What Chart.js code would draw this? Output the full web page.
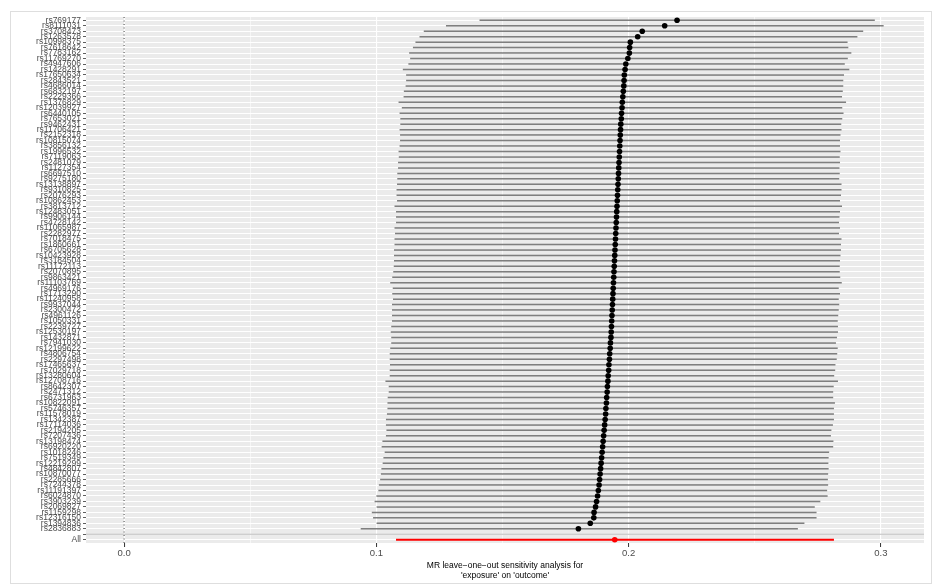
<!DOCTYPE html>
<html>
<head>
<meta charset="utf-8">
<script src="https://cdn.jsdelivr.net/npm/chart.js@4.4.1/dist/chart.umd.min.js"></script>
<style>
  html, body { margin: 0; padding: 0; background: #fff; }
  #frame { position: absolute; left: 10px; top: 11px; width: 920px; height: 571px; border: 1px solid #dedede; }
  #loo { position: absolute; left: 0; top: 0; }
</style>
</head>
<body>
<div id="frame"></div>
<canvas id="loo" width="934" height="585"></canvas>
<script>
// leave-one-out results, ordered by estimate (top row first)
const snps = [
  'rs769177','rs8111031','rs3708473','rs1263578','rs10998375','rs7618642','rs7783162','rs11769270','rs4947606','rs1428291',
  'rs17650634','rs2843521','rs4686014','rs6832197','rs2229366','rs1376829','rs12039927','rs6440105','rs7653021','rs9462431',
  'rs11706421','rs2152318','rs10815074','rs3856132','rs1996532','rs7119063','rs2481079','rs1127354','rs6697510','rs9275180',
  'rs13138897','rs9310825','rs2076293','rs10862453','rs3813712','rs12483051','rs9906144','rs4728142','rs11065987','rs2282977',
  'rs7018475','rs1860661','rs6705628','rs10423928','rs3184504','rs11172113','rs2070895','rs9863421','rs11103769','rs4969176',
  'rs1713290','rs11240958','rs9937044','rs2300472','rs4961126','rs1050331','rs2239727','rs12530197','rs1432871','rs7941030',
  'rs12199622','rs4806754','rs2297498','rs17465637','rs7029718','rs13280604','rs12708716','rs8642307','rs2471312','rs6731963',
  'rs10822091','rs5746357','rs11578019','rs1342387','rs17114036','rs2194205','rs7207436','rs13198474','rs6920220','rs1018246',
  'rs7519349','rs12219299','rs4842807','rs10870077','rs2285666','rs7244378','rs11191397','rs6024870','rs3903239','rs2069827',
  'rs1159298','rs12316150','rs1394836','rs2836883'
];
const beta = [
  0.2192,0.2143,0.2054,0.2036,0.2007,0.2004,0.2003,0.1997,0.1989,0.1986,
  0.1983,0.1982,0.1981,0.1979,0.1977,0.1975,0.1974,0.1972,0.1971,0.1969,
  0.1968,0.1967,0.1966,0.1965,0.1964,0.1963,0.1962,0.1961,0.1960,0.1959,
  0.1958,0.1957,0.1956,0.1955,0.1954,0.1953,0.1952,0.1951,0.1950,0.1949,
  0.1948,0.1947,0.1946,0.1945,0.1944,0.1943,0.1942,0.1941,0.1940,0.1939,
  0.1938,0.1937,0.1936,0.1935,0.1934,0.1933,0.1932,0.1931,0.1930,0.1928,
  0.1927,0.1925,0.1924,0.1922,0.1921,0.1919,0.1918,0.1916,0.1915,0.1913,
  0.1912,0.1910,0.1909,0.1907,0.1905,0.1903,0.1901,0.1899,0.1897,0.1895,
  0.1893,0.1891,0.1889,0.1887,0.1885,0.1883,0.1880,0.1877,0.1873,0.1869,
  0.1863,0.1862,0.1848,0.1801
];
const lower = [
  0.1409,0.1276,0.1188,0.1171,0.1155,0.1145,0.1130,0.1134,0.1127,0.1105,
  0.1118,0.1118,0.1116,0.1109,0.1108,0.1088,0.1101,0.1092,0.1095,0.1095,
  0.1092,0.1094,0.1094,0.1092,0.1088,0.1089,0.1086,0.1086,0.1083,0.1083,
  0.1082,0.1080,0.1080,0.1082,0.1072,0.1078,0.1078,0.1078,0.1072,0.1074,
  0.1072,0.1072,0.1070,0.1070,0.1070,0.1069,0.1067,0.1063,0.1055,0.1065,
  0.1063,0.1066,0.1062,0.1062,0.1062,0.1062,0.1059,0.1057,0.1059,0.1059,
  0.1055,0.1053,0.1053,0.1054,0.1053,0.1053,0.1036,0.1049,0.1049,0.1045,
  0.1044,0.1044,0.1042,0.1038,0.1038,0.1040,0.1038,0.1024,0.1021,0.1033,
  0.1028,0.1025,0.1020,0.1018,0.1015,0.1010,0.1008,0.1000,0.0993,0.1001,
  0.0982,0.0987,0.1001,0.0938
];
const upper = [
  0.2976,0.3011,0.2930,0.2907,0.2868,0.2871,0.2883,0.2869,0.2857,0.2875,
  0.2854,0.2851,0.2851,0.2849,0.2846,0.2862,0.2847,0.2852,0.2847,0.2843,
  0.2844,0.2840,0.2838,0.2838,0.2840,0.2837,0.2838,0.2836,0.2837,0.2835,
  0.2844,0.2844,0.2842,0.2838,0.2846,0.2838,0.2836,0.2834,0.2838,0.2834,
  0.2844,0.2842,0.2842,0.2840,0.2838,0.2837,0.2837,0.2839,0.2845,0.2833,
  0.2838,0.2833,0.2835,0.2833,0.2831,0.2829,0.2830,0.2830,0.2826,0.2822,
  0.2829,0.2827,0.2825,0.2820,0.2819,0.2815,0.2830,0.2813,0.2811,0.2811,
  0.2818,0.2814,0.2814,0.2814,0.2810,0.2804,0.2802,0.2812,0.2811,0.2795,
  0.2793,0.2792,0.2793,0.2791,0.2790,0.2791,0.2787,0.2789,0.2760,0.2738,
  0.2745,0.2745,0.2697,0.2671
];
// combined estimate with all SNPs
const allBeta = [0.1945];
const allLower = [0.1078];
const allUpper = [0.2814];
const xTicks = [0, 0.05, 0.1, 0.15, 0.2, 0.25, 0.3];
const xMajor = [0, 0.1, 0.2, 0.3];

// row layout: 'All' at 1, empty separator level at 2, SNPs from 3 upwards
const nSnp = snps.length;
const rowLabels = { 1: 'All', 2: '' };
snps.forEach((s, i) => { rowLabels[nSnp + 2 - i] = s; });
const snpPos = i => nSnp + 2 - i;

const xMin = -0.0151, xMax = 0.3171;

const barPts = [];
snps.forEach((s, i) => {
  barPts.push({ x: lower[i], y: snpPos(i) }, { x: upper[i], y: snpPos(i) }, { x: null, y: null });
});
const dotPts = beta.map((b, i) => ({ x: b, y: snpPos(i) }));

const panelBg = {
  id: 'panelBg',
  beforeDraw(chart) {
    const { ctx, chartArea: a } = chart;
    ctx.save();
    ctx.fillStyle = '#EBEBEB';
    ctx.fillRect(a.left, a.top, a.right - a.left, a.bottom - a.top);
    ctx.restore();
  }
};

const isMajor = v => xMajor.some(m => Math.abs(m - v) < 1e-9);
const font = 'Liberation Sans, Arial, Helvetica, sans-serif';

new Chart(document.getElementById('loo'), {
  type: 'scatter',
  data: {
    datasets: [
      { data: [{ x: xMin, y: 2 }, { x: xMax, y: 2 }], showLine: true, borderColor: '#bebebe', borderWidth: 1, pointRadius: 0 },
      { data: [{ x: 0, y: 0.4 }, { x: 0, y: nSnp + 2.6 }], showLine: true, borderColor: '#444', borderWidth: 1, borderDash: [1, 2.5], pointRadius: 0 },
      { data: barPts, showLine: true, spanGaps: false, borderColor: 'rgba(0,0,0,0.5)', borderWidth: 1.5, pointRadius: 0 },
      { data: dotPts, pointRadius: 2.8, pointBackgroundColor: '#000', pointBorderWidth: 0 },
      { data: [{ x: allLower[0], y: 1 }, { x: allUpper[0], y: 1 }], showLine: true, borderColor: '#ff0000', borderWidth: 2, pointRadius: 0 },
      { data: [{ x: allBeta[0], y: 1 }], pointRadius: 2.8, pointBackgroundColor: '#ff0000', pointBorderWidth: 0 }
    ]
  },
  options: {
    responsive: false,
    animation: false,
    layout: { padding: { top: 17, right: 10, bottom: 0, left: 0 } },
    plugins: { legend: { display: false }, tooltip: { enabled: false } },
    scales: {
      x: {
        type: 'linear',
        min: xMin,
        max: xMax,
        afterBuildTicks: s => { s.ticks = xTicks.map(v => ({ value: v })); },
        afterFit: s => { s.height = 42; },
        ticks: {
          autoSkip: false,
          padding: 1,
          color: '#4d4d4d',
          font: { family: font, size: 9.5 },
          callback: v => isMajor(v) ? v.toFixed(1) : ''
        },
        grid: {
          color: '#ffffff',
          lineWidth: c => isMajor(c.tick.value) ? 1.1 : 0.55,
          tickColor: c => isMajor(c.tick.value) ? '#333333' : 'rgba(0,0,0,0)',
          tickLength: 4,
          tickWidth: 1
        },
        border: { display: false },
        title: {
          display: true,
          text: ['MR leave\u2212one\u2212out sensitivity analysis for', "'exposure' on 'outcome'"],
          color: '#000',
          font: { family: font, size: 8.5, lineHeight: 1.2 },
          padding: { top: 0, bottom: 4 }
        }
      },
      y: {
        type: 'linear',
        min: 0.4,
        max: nSnp + 2.6,
        afterBuildTicks: s => {
          const t = [];
          for (let p = 1; p <= nSnp + 2; p++) t.push({ value: p });
          s.ticks = t;
        },
        afterFit: s => { s.width = 86; },
        ticks: {
          autoSkip: false,
          padding: 2,
          color: '#4d4d4d',
          font: { family: font, size: 8.5 },
          callback: v => rowLabels[v]
        },
        grid: {
          color: '#ffffff',
          lineWidth: 1,
          tickColor: '#333333',
          tickLength: 3,
          tickWidth: 0.8
        },
        border: { display: false }
      }
    }
  },
  plugins: [panelBg]
});
</script>
</body>
</html>
